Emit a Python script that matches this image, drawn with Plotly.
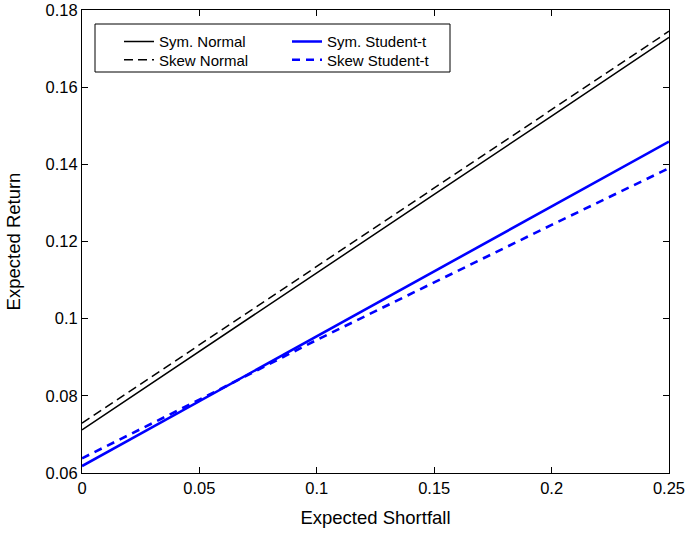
import plotly.graph_objects as go

es = [0.0, 0.05, 0.10, 0.15, 0.20, 0.25]
sym_normal = [0.0712, 0.0916, 0.1119, 0.1322, 0.1525, 0.1729]
skew_normal = [0.0729, 0.0932, 0.1135, 0.1338, 0.1541, 0.1745]
sym_student = [0.0618, 0.0786, 0.0954, 0.1122, 0.1290, 0.1459]
skew_student = [0.0638, 0.0790, 0.0945, 0.1095, 0.1243, 0.1390]

xtick_vals = [0, 0.05, 0.1, 0.15, 0.2, 0.25]
xtick_text = ["0", "0.05", "0.1", "0.15", "0.2", "0.25"]
ytick_vals = [0.06, 0.08, 0.10, 0.12, 0.14, 0.16, 0.18]
ytick_text = ["0.06", "0.08", "0.1", "0.12", "0.14", "0.16", "0.18"]

FONT = "Liberation Sans, Arial, Helvetica, sans-serif"
W, H = 686, 534
ML, MR, MT, MB = 82, 17, 10, 61
PW, PH = W - ML - MR, H - MT - MB


def px_x(p):
    return (p - ML) / PW


def px_y(p):
    return (H - MB - p) / PH


fig = go.Figure()
fig.add_trace(go.Scatter(x=es, y=sym_normal, mode="lines", name="Sym. Normal",
                         line=dict(color="black", width=1.5), legend="legend2"))
fig.add_trace(go.Scatter(x=es, y=skew_normal, mode="lines", name="Skew Normal",
                         line=dict(color="black", width=1.5, dash="9px,5px"), legend="legend3"))
fig.add_trace(go.Scatter(x=es, y=sym_student, mode="lines", name="Sym. Student-t",
                         line=dict(color="#0000ff", width=2.6), legend="legend4"))
fig.add_trace(go.Scatter(x=es, y=skew_student, mode="lines", name="Skew Student-t",
                         line=dict(color="#0000ff", width=2.6, dash="8px,6px"), legend="legend5"))

axis_common = dict(
    showgrid=False, zeroline=False, showline=True, linecolor="black", linewidth=1,
    mirror="ticks", ticks="inside", ticklen=6, tickwidth=1, tickcolor="black",
    tickfont=dict(family=FONT, size=16.5, color="black"), automargin=False,
)


def leg(xp, yp):
    return dict(x=px_x(xp), y=px_y(yp), xanchor="left", yanchor="middle",
                bgcolor="rgba(0,0,0,0)", borderwidth=0, visible=True,
                font=dict(family=FONT, size=15, color="black"), itemwidth=30)


fig.update_layout(
    width=W, height=H,
    showlegend=True,
    margin=dict(l=ML, r=MR, t=MT, b=MB, autoexpand=False),
    paper_bgcolor="white", plot_bgcolor="white",
    font=dict(family=FONT, color="black"),
    xaxis=dict(range=[0, 0.25], tickvals=xtick_vals, ticktext=xtick_text,
               title=dict(text="Expected Shortfall", font=dict(family=FONT, size=18.5), standoff=15),
               **axis_common),
    yaxis=dict(range=[0.06, 0.18], tickvals=ytick_vals, ticktext=ytick_text,
               title=dict(text="Expected Return", font=dict(family=FONT, size=18.5), standoff=20),
               **axis_common),
    legend2=leg(119, 41.7),
    legend3=leg(119, 60),
    legend4=leg(287, 41.7),
    legend5=leg(287, 60),
    shapes=[dict(type="rect", xref="paper", yref="paper",
                 x0=px_x(95), x1=px_x(450), y0=px_y(72), y1=px_y(24),
                 line=dict(color="black", width=1), fillcolor="white", layer="below")],
)

fig.write_html("out.html", config={"displayModeBar": False},
               post_script="document.body.style.margin='0';")
